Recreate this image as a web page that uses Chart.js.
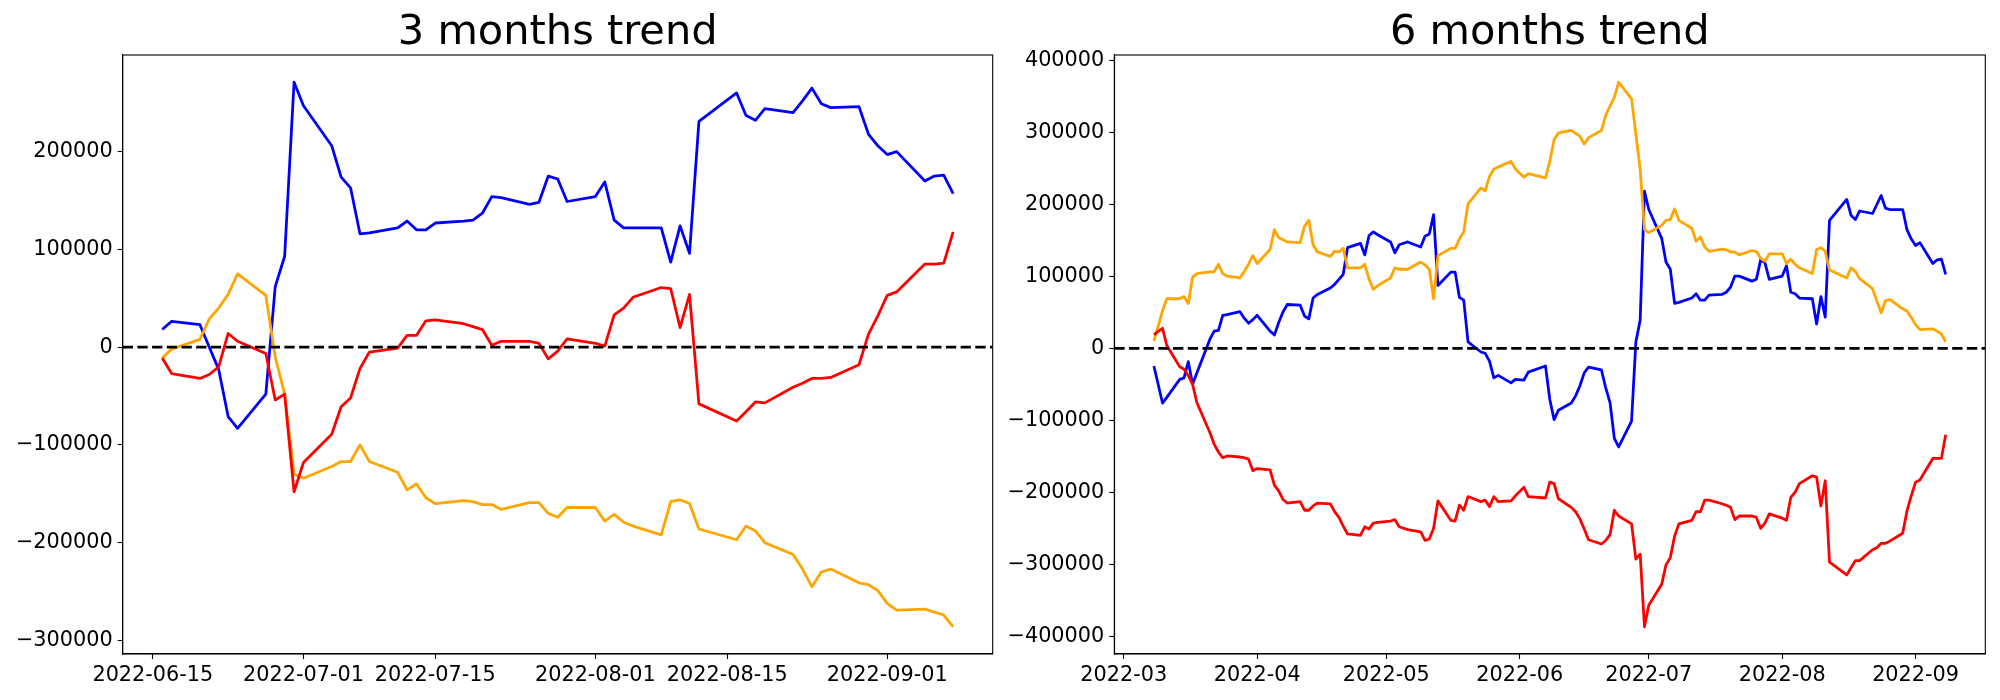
<!DOCTYPE html>
<html><head><meta charset="utf-8">
<script src="https://cdn.jsdelivr.net/npm/chart.js@4.4.0/dist/chart.umd.min.js"></script>
<style>
html,body{margin:0;padding:0;background:#fff;width:2000px;height:700px;overflow:hidden}
canvas{position:absolute;top:0}
#c1{left:0px}
#c2{left:1000px}
</style></head><body>
<canvas id="c1" width="1000" height="700" style="width:1000px;height:700px"></canvas>
<canvas id="c2" width="1000" height="700" style="width:1000px;height:700px"></canvas>
<script>
// ---------- 3 months ----------
const dates3 = ["2022-06-16","2022-06-17","2022-06-20","2022-06-21","2022-06-22","2022-06-23","2022-06-24","2022-06-27","2022-06-28","2022-06-29","2022-06-30",
"2022-07-01","2022-07-04","2022-07-05","2022-07-06","2022-07-07","2022-07-08","2022-07-11","2022-07-12","2022-07-13","2022-07-14","2022-07-15","2022-07-18","2022-07-19","2022-07-20","2022-07-21","2022-07-22","2022-07-25","2022-07-26","2022-07-27","2022-07-28","2022-07-29",
"2022-08-01","2022-08-02","2022-08-03","2022-08-04","2022-08-05","2022-08-08","2022-08-09","2022-08-10","2022-08-11","2022-08-12","2022-08-16","2022-08-17","2022-08-18","2022-08-19","2022-08-22","2022-08-23","2022-08-24","2022-08-25","2022-08-26","2022-08-29","2022-08-30","2022-08-31",
"2022-09-01","2022-09-02","2022-09-05","2022-09-06","2022-09-07","2022-09-08"];
const blue3 = [18000,26500,23000,0,-23000,-71000,-83000,-48000,62000,93000,271000,
247000,206000,174000,163000,116000,117000,122000,129000,120000,120000,127000,129000,130000,137000,154000,153000,146000,148000,175000,172000,149000,
154000,169000,130000,122000,122000,122000,87000,124000,96000,231000,260000,237000,232000,244000,240000,252000,265000,249000,245000,246000,218000,206000,
197000,200000,170000,175000,176000,157000];
const orange3 = [-11000,-2000,8000,29000,40000,54000,75000,53000,-10000,-48000,-130000,
-134000,-122000,-117000,-117000,-100000,-117000,-128000,-146000,-140000,-154000,-160000,-157000,-158000,-161000,-161000,-166000,-159000,-159000,-170000,-174000,-164000,
-164000,-178000,-171000,-179000,-183000,-192000,-158000,-156000,-160000,-186000,-197000,-183000,-188000,-200000,-212000,-227000,-245000,-230000,-227000,-241000,-243000,-249000,
-262000,-269000,-268000,-271000,-274000,-286000];
const red3 = [-11000,-27000,-32000,-28000,-20000,14000,6000,-6500,-54000,-48000,-148000,
-118000,-89000,-61000,-52000,-22000,-5000,-1000,12000,12000,27000,28000,24000,21000,18000,2000,6000,6000,4000,-12000,-4000,8500,
4000,1000,33000,40000,51000,61000,60000,20000,54000,-58000,-75500,-66000,-56000,-57000,-41000,-37000,-32000,-32000,-31000,-18000,13000,32000,
53000,56500,85000,85000,86000,118000];
const xTicks3 = ["2022-06-15","2022-07-01","2022-07-15","2022-08-01","2022-08-15","2022-09-01"];
const yTicks3 = [-300000,-200000,-100000,0,100000,200000];

// ---------- 6 months ----------
const dates6 = ["2022-03-08","2022-03-10","2022-03-11","2022-03-14","2022-03-15","2022-03-16","2022-03-17","2022-03-18","2022-03-21","2022-03-22","2022-03-23","2022-03-24","2022-03-25","2022-03-28","2022-03-29","2022-03-30","2022-03-31",
"2022-04-01","2022-04-04","2022-04-05","2022-04-06","2022-04-07","2022-04-08","2022-04-11","2022-04-12","2022-04-13","2022-04-14","2022-04-15","2022-04-18","2022-04-19","2022-04-20","2022-04-21","2022-04-22","2022-04-25","2022-04-26","2022-04-27","2022-04-28","2022-04-29",
"2022-05-02","2022-05-03","2022-05-04","2022-05-06","2022-05-09","2022-05-10","2022-05-11","2022-05-12","2022-05-13","2022-05-16","2022-05-17","2022-05-18","2022-05-19","2022-05-20","2022-05-23","2022-05-24","2022-05-25","2022-05-26","2022-05-27","2022-05-30","2022-05-31",
"2022-06-02","2022-06-03","2022-06-07","2022-06-08","2022-06-09","2022-06-10","2022-06-13","2022-06-14","2022-06-15","2022-06-16","2022-06-17","2022-06-20","2022-06-21","2022-06-22","2022-06-23","2022-06-24","2022-06-27","2022-06-28","2022-06-29","2022-06-30",
"2022-07-01","2022-07-04","2022-07-05","2022-07-06","2022-07-07","2022-07-08","2022-07-11","2022-07-12","2022-07-13","2022-07-14","2022-07-15","2022-07-18","2022-07-19","2022-07-20","2022-07-21","2022-07-22","2022-07-25","2022-07-26","2022-07-27","2022-07-28","2022-07-29",
"2022-08-01","2022-08-02","2022-08-03","2022-08-04","2022-08-05","2022-08-08","2022-08-09","2022-08-10","2022-08-11","2022-08-12","2022-08-16","2022-08-17","2022-08-18","2022-08-19","2022-08-22","2022-08-23","2022-08-24","2022-08-25","2022-08-26","2022-08-29","2022-08-30","2022-08-31",
"2022-09-01","2022-09-02","2022-09-05","2022-09-06","2022-09-07","2022-09-08"];
const blue6 = [-24500,-76000,-68000,-43000,-41000,-18500,-50000,-34000,12500,24000,25000,46000,47000,51000,42000,35000,40000,
46000,24000,18500,36000,50500,61000,60000,45000,41000,70000,75000,84000,89000,96000,103000,140000,146000,130000,157000,162000,158000,
148000,133000,144000,148000,141000,156000,159000,186000,87500,106000,106000,71000,67000,9000,-5000,-7000,-18000,-41000,-37500,-48000,-43000,
-44000,-33000,-24500,-71000,-99000,-86000,-76000,-66000,-52000,-34000,-26000,-30000,-55000,-75500,-125000,-137000,-101000,9000,39000,218500,
193000,153000,120000,110000,62500,64000,70000,76000,67000,67000,74000,75000,78000,85000,100500,100500,93500,96000,123000,119000,96000,
100500,115000,78000,76000,70000,69000,34000,72000,43500,178000,207000,185000,179000,191000,187500,200000,212500,195000,193000,193000,165000,152000,
143000,147000,118000,123000,124000,103000];
const orange6 = [10000,52000,69000,69000,72000,62500,99000,104000,106500,106500,117000,104000,100500,98000,107000,117000,129000,
118000,137500,165000,154000,151000,148000,147000,170000,178000,144000,134000,128000,135000,134000,139000,112000,112000,117000,96000,82000,87000,
98000,112000,110000,110000,120000,116000,110000,69000,129000,139000,139000,152000,162000,201000,223000,219000,239000,249000,252000,260000,249500,
238000,243000,237000,260000,290000,299500,303000,299000,295000,284000,293000,303000,324000,337000,349000,370000,347000,298000,249000,165000,
161000,171000,178000,179000,194000,178000,167000,149000,155000,141000,135000,138000,137000,134000,134000,130000,136000,135000,125000,121000,131500,
131500,118000,124000,117000,112000,104000,137500,140000,135000,109000,98000,112000,107000,97000,83000,66000,49500,66000,68000,55000,52000,43000,
33000,26000,27000,24000,20000,9000];
const red6 = [19000,28000,4000,-25500,-29000,-38000,-50000,-75500,-117000,-133000,-144000,-152000,-149500,-151000,-152000,-154000,-170000,
-167000,-169000,-190000,-198000,-210000,-215000,-213000,-225000,-225000,-219000,-215000,-216000,-227000,-235000,-247000,-258000,-260000,-248000,-251000,-243000,-242000,
-240000,-238000,-248000,-252000,-255000,-267000,-265000,-250000,-212000,-239000,-240000,-218000,-225000,-206000,-213000,-211000,-220000,-206000,-213000,-212000,-205000,
-193000,-206000,-208000,-186000,-188000,-209000,-221000,-227000,-237000,-251000,-266000,-272000,-267000,-259000,-225000,-233000,-244000,-293000,-286000,-387000,
-357000,-328000,-301000,-291000,-261000,-244000,-239000,-227000,-227000,-211000,-211000,-216000,-218000,-221000,-238000,-233000,-233000,-235000,-250000,-243000,-230000,
-236000,-239000,-207000,-200000,-188000,-177000,-179000,-219000,-184000,-297000,-315000,-305000,-295000,-295000,-280000,-277000,-271000,-271000,-268000,-257000,-226000,-205000,
-186000,-183000,-153000,-153000,-153000,-120000];
const xTicks6 = ["2022-03-01","2022-04-01","2022-05-01","2022-06-01","2022-07-01","2022-08-01","2022-09-01"];
const xTickLabels6 = ["2022-03","2022-04","2022-05","2022-06","2022-07","2022-08","2022-09"];
const yTicks6 = [-400000,-300000,-200000,-100000,0,100000,200000,300000,400000];

const FONT = "'DejaVu Sans', sans-serif";
function dayNum(s){const p=s.split('-').map(Number);return Date.UTC(p[0],p[1]-1,p[2])/86400000;}
function fmtY(v){return v<0?'\u2212'+Math.abs(v):String(v);}

const boxPlugin = {
  id:'box',
  afterDatasetsDraw(chart){
    const a=chart.chartArea, ctx=chart.ctx;
    ctx.save(); ctx.strokeStyle='#000'; ctx.lineWidth=1.1;
    ctx.strokeRect(a.left,a.top,a.right-a.left,a.bottom-a.top);
    ctx.restore();
  }
};

function makeChart(id, title, dates, blue, orange, red, xTicks, xLabels, yTicks, area){
  const xs = dates.map(dayNum);
  const x0 = Math.min(...xs), x1 = Math.max(...xs);
  const xmin = x0-(x1-x0)*0.05, xmax = x1+(x1-x0)*0.05;
  const all = blue.concat(orange, red);
  const y0 = Math.min(...all), y1 = Math.max(...all);
  const ymin = y0-(y1-y0)*0.05, ymax = y1+(y1-y0)*0.05;
  const tickVals = xTicks.map(dayNum);
  const labelMap = {}; tickVals.forEach((v,i)=>labelMap[v]=xLabels[i]);
  const mk = (vals)=>vals.map((v,i)=>({x:xs[i],y:v}));
  const lineOpts = {borderWidth:2.78, pointRadius:0, tension:0, fill:false, borderJoinStyle:'round', borderCapStyle:'butt'};
  new Chart(document.getElementById(id), {
    type:'line',
    data:{datasets:[
      Object.assign({label:'zero', data:[{x:xmin,y:0},{x:xmax,y:0}], borderColor:'#000', borderDash:[10.3,4.4], order:0}, lineOpts),
      Object.assign({label:'red', data:mk(red), borderColor:'#ff0000', order:1}, lineOpts),
      Object.assign({label:'orange', data:mk(orange), borderColor:'#ffa500', order:2}, lineOpts),
      Object.assign({label:'blue', data:mk(blue), borderColor:'#0000ff', order:3}, lineOpts)
    ]},
    options:{
      responsive:false, animation:false, devicePixelRatio:1,
      layout:{padding:{left:0,right:1000-area.right,top:0,bottom:0}},
      plugins:{
        legend:{display:false}, tooltip:{enabled:false},
        title:{display:true, text:title, fullSize:false, color:'#000',
          font:{family:FONT, size:41.5, weight:'normal', lineHeight:1}, padding:{top:12,bottom:1.5}}
      },
      scales:{
        x:{type:'linear', min:xmin, max:xmax,
          afterFit(s){s.height=700-area.bottom;},
          afterBuildTicks(s){s.ticks=tickVals.map(v=>({value:v}));},
          grid:{display:true, drawOnChartArea:false, drawTicks:true, tickLength:5, tickColor:'#000', tickWidth:1.1},
          border:{display:true, color:'#000', width:1.1},
          ticks:{autoSkip:false, maxRotation:0, minRotation:0, padding:4, color:'#000', font:{family:FONT, size:20.8},
            callback:(v)=>labelMap[v]}
        },
        y:{type:'linear', min:ymin, max:ymax,
          afterFit(s){s.width=area.left;},
          afterBuildTicks(s){s.ticks=yTicks.map(v=>({value:v}));},
          grid:{display:true, drawOnChartArea:false, drawTicks:true, tickLength:5, tickColor:'#000', tickWidth:1.1},
          border:{display:true, color:'#000', width:1.1},
          ticks:{padding:5, color:'#000', font:{family:FONT, size:20.8}, callback:(v)=>fmtY(v)}
        }
      }
    },
    plugins:[boxPlugin]
  });
}

makeChart('c1','3 months trend',dates3,blue3,orange3,red3,xTicks3,xTicks3,yTicks3,{left:122.7,right:992.7,bottom:654});
makeChart('c2','6 months trend',dates6,blue6,orange6,red6,xTicks6,xTickLabels6,yTicks6,{left:114.3,right:985.3,bottom:654});
</script>
</body></html>
